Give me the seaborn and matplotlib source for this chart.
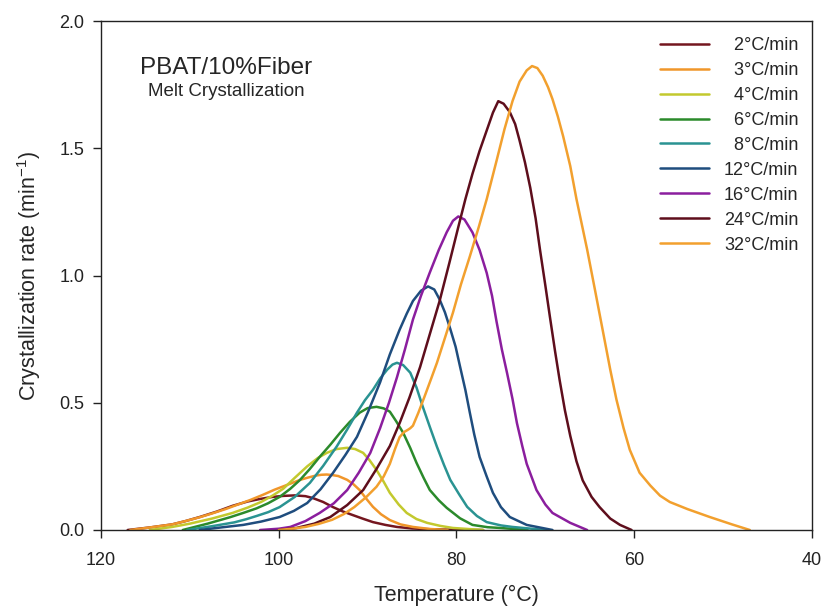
import numpy as np
import pandas as pd
import matplotlib
matplotlib.use("Agg")
import matplotlib.pyplot as plt
import seaborn as sns

# ---- data ----
labels = ["2°C/min", "3°C/min", "4°C/min", "6°C/min", "8°C/min",
          "12°C/min", "16°C/min", "24°C/min", "32°C/min"]
colors = ["#74161F", "#F0962A", "#C3C92E", "#2B8A2B", "#2A9392",
          "#1F4D7E", "#8B1E9E", "#5E0E1C", "#F2A02E"]

T_2 = [117.0, 114.5, 112.0, 110.5, 108.9, 107.0, 105.2, 103.5, 102.1, 100.7, 99.5, 98.2, 97.0, 96.2,
       95.0, 93.9, 92.8, 91.7, 90.5, 89.4, 88.0, 86.7, 85.0, 83.0, 80.0, 77.0]
r_2 = [0.0, 0.01, 0.022, 0.035, 0.051, 0.072, 0.095, 0.112, 0.122, 0.130, 0.134, 0.136, 0.133, 0.126,
       0.110, 0.090, 0.073, 0.059, 0.044, 0.031, 0.020, 0.012, 0.006, 0.003, 0.001, 0.0]

T_3 = [116.7, 114.5, 112.0, 110.5, 108.9, 107.5, 106.0, 104.6, 103.2, 101.8, 100.5, 99.0, 97.6, 96.6,
       95.8, 95.2, 94.6, 94.0, 93.3, 92.3, 91.6, 90.9, 90.2, 89.4, 88.5, 87.5, 86.3, 84.9, 83.0, 81.0]
r_3 = [0.0, 0.01, 0.022, 0.035, 0.05, 0.065, 0.082, 0.100, 0.118, 0.138, 0.158, 0.178, 0.197, 0.207,
       0.214, 0.217, 0.218, 0.216, 0.212, 0.197, 0.180, 0.157, 0.125, 0.091, 0.062, 0.039, 0.022, 0.012, 0.004, 0.0]

T_4 = [114.5, 112.0, 110.0, 107.5, 105.2, 103.5, 102.0, 100.7, 99.5, 98.2, 96.8, 95.6, 94.6, 93.5,
       92.3, 91.4, 90.5, 89.8, 89.0, 88.2, 87.5, 86.5, 85.6, 84.5, 83.3, 81.8, 80.4, 77.0]
r_4 = [0.0, 0.012, 0.025, 0.045, 0.067, 0.088, 0.11, 0.135, 0.162, 0.205, 0.250, 0.283, 0.303, 0.318,
       0.323, 0.318, 0.303, 0.275, 0.236, 0.190, 0.146, 0.100, 0.067, 0.043, 0.028, 0.016, 0.008, 0.0]

T_6 = [110.8, 108.0, 105.5, 104.0, 102.5, 101.2, 99.9, 98.7, 97.6, 96.5, 95.4, 94.2, 93.1, 92.0,
       90.9, 90.0, 89.0, 88.2, 87.5, 86.8, 86.0, 85.2, 84.5, 83.7, 83.0, 82.0, 81.1, 79.6, 78.2,
       76.5, 75.1, 72.0]
r_6 = [0.0, 0.025, 0.05, 0.067, 0.085, 0.105, 0.13, 0.162, 0.197, 0.240, 0.287, 0.335, 0.382, 0.425,
       0.461, 0.479, 0.484, 0.478, 0.465, 0.428, 0.382, 0.322, 0.264, 0.205, 0.157, 0.117, 0.087,
       0.046, 0.02, 0.011, 0.008, 0.0]

T_8 = [110.3, 107.5, 105.0, 103.7, 102.5, 101.2, 99.9, 98.2, 96.5, 95.0, 93.5, 92.3, 91.2, 90.3,
       89.4, 88.6, 87.8, 87.2, 86.7, 86.0, 85.2, 84.5, 83.8, 83.0, 82.2, 81.4, 80.7, 79.7, 78.8,
       77.7, 76.6, 75.0, 73.7, 70.0]
r_8 = [0.0, 0.015, 0.03, 0.042, 0.055, 0.07, 0.09, 0.13, 0.185, 0.252, 0.327, 0.395, 0.461, 0.51,
       0.551, 0.595, 0.63, 0.650, 0.657, 0.648, 0.618, 0.560, 0.485, 0.405, 0.327, 0.255, 0.197,
       0.140, 0.091, 0.055, 0.031, 0.018, 0.012, 0.0]

T_12 = [108.9, 106.5, 104.0, 102.0, 99.9, 98.3, 96.8, 95.3, 93.9, 92.5, 91.2, 90.0, 88.6, 87.5,
        86.4, 85.6, 84.9, 84.0, 83.2, 82.5, 81.9, 81.3, 80.7, 80.1, 79.6, 79.0, 78.5, 78.0, 77.4,
        76.6, 75.9, 75.0, 74.0, 72.1, 69.2]
r_12 = [0.0, 0.01, 0.02, 0.033, 0.051, 0.075, 0.106, 0.16, 0.224, 0.295, 0.366, 0.46, 0.58, 0.69,
        0.787, 0.85, 0.90, 0.94, 0.957, 0.945, 0.906, 0.855, 0.79, 0.72, 0.642, 0.55, 0.461, 0.375,
        0.287, 0.21, 0.146, 0.09, 0.051, 0.02, 0.0]

T_16 = [102.1, 100.0, 98.7, 97.0, 95.4, 93.8, 92.3, 91.0, 89.7, 88.6, 87.6, 86.7, 85.8, 84.9, 84.0,
        83.0, 82.0, 81.1, 80.4, 79.8, 79.1, 78.2, 77.4, 76.6, 76.0, 75.5, 74.9, 74.3, 73.7, 73.2,
        72.6, 72.1, 71.0, 70.0, 69.2, 67.2, 65.3]
r_16 = [0.0, 0.005, 0.012, 0.035, 0.067, 0.105, 0.157, 0.225, 0.303, 0.40, 0.50, 0.60, 0.71, 0.827,
        0.92, 1.012, 1.10, 1.17, 1.215, 1.232, 1.22, 1.169, 1.10, 1.01, 0.92, 0.82, 0.71, 0.615,
        0.515, 0.42, 0.33, 0.26, 0.157, 0.10, 0.067, 0.028, 0.0]

T_24 = [100.0, 98.0, 96.0, 94.2, 92.3, 90.5, 89.0, 87.5, 86.4, 85.3, 84.1, 83.0, 81.9, 80.8, 79.8,
        79.0, 78.2, 77.4, 76.6, 75.9, 75.3, 74.7, 74.0, 73.4, 72.9, 72.3, 71.7, 71.1, 70.6, 70.0,
        69.5, 68.9, 68.4, 67.8, 67.2, 66.5, 65.8, 64.8, 63.9, 62.7, 61.6, 60.3]
r_24 = [0.0, 0.008, 0.025, 0.051, 0.098, 0.157, 0.24, 0.33, 0.42, 0.52, 0.64, 0.77, 0.90, 1.05, 1.19,
        1.30, 1.40, 1.49, 1.57, 1.64, 1.685, 1.675, 1.642, 1.595, 1.53, 1.445, 1.345, 1.225, 1.10,
        0.96, 0.84, 0.70, 0.59, 0.47, 0.37, 0.27, 0.195, 0.13, 0.09, 0.045, 0.02, 0.0]

T_32 = [100.0, 98.5, 97.0, 95.5, 94.0, 92.7, 91.5, 90.2, 89.0, 88.2, 87.5, 86.9, 86.4, 85.9, 85.5,
        85.2, 84.9, 84.3, 83.6, 82.9, 82.2, 81.3, 80.4, 79.5, 78.5, 77.5, 76.6, 75.5, 74.6, 73.7,
        72.9, 72.1, 71.5, 70.9, 70.3, 69.7, 69.2, 68.6, 68.0, 67.2, 66.5, 65.3, 64.4, 63.5, 62.7,
        62.0, 61.2, 60.5, 59.4, 58.2, 57.1, 56.0, 54.0, 51.5, 49.0, 47.0]
r_32 = [0.0, 0.005, 0.012, 0.024, 0.04, 0.062, 0.09, 0.128, 0.17, 0.21, 0.26, 0.32, 0.365, 0.385,
        0.393, 0.40, 0.41, 0.46, 0.524, 0.59, 0.657, 0.755, 0.854, 0.965, 1.075, 1.19, 1.30, 1.45,
        1.575, 1.685, 1.762, 1.806, 1.823, 1.815, 1.785, 1.74, 1.693, 1.625, 1.547, 1.43, 1.30, 1.102,
        0.94, 0.776, 0.63, 0.512, 0.40, 0.315, 0.225, 0.175, 0.135, 0.11, 0.082, 0.051, 0.022, 0.0]

series_T = [T_2, T_3, T_4, T_6, T_8, T_12, T_16, T_24, T_32]
series_r = [r_2, r_3, r_4, r_6, r_8, r_12, r_16, r_24, r_32]

x_ticks = [120, 100, 80, 60, 40]
y_ticks = [0.0, 0.5, 1.0, 1.5, 2.0]

# ---- build long table ----
frames = []
for lab, T, r in zip(labels, series_T, series_r):
    frames.append(pd.DataFrame({"T": T, "rate": r, "series": lab}))
df = pd.concat(frames, ignore_index=True)

sns.set_style("ticks")
plt.rcParams["font.family"] = ["Liberation Sans", "DejaVu Sans"]
plt.rcParams["mathtext.default"] = "regular"

fig = plt.figure(figsize=(8.25, 6.14), dpi=100)
ax = fig.add_axes([101 / 825, 1 - 530 / 614, (812 - 101) / 825, (530 - 21) / 614])

palette = dict(zip(labels, colors))
sns.lineplot(data=df, x="T", y="rate", hue="series", hue_order=labels,
             palette=palette, estimator=None, sort=True, linewidth=1.8,
             ax=ax, legend=True)

ax.set_xlim(120, 40)
ax.set_ylim(0, 2.0)
ax.set_xticks(x_ticks)
ax.set_xticklabels([str(v) for v in x_ticks])
ax.set_yticks(y_ticks)
ax.set_yticklabels([f"{v:.1f}" for v in y_ticks])
ax.tick_params(axis="both", direction="out", length=6, width=1.0,
               labelsize=13, colors="#222222")
ax.tick_params(axis="x", pad=10)
ax.tick_params(axis="y", pad=6)
for s in ax.spines.values():
    s.set_linewidth(1.0)
    s.set_color("#222222")
    s.set_visible(True)

ax.set_xlabel("Temperature (°C)", fontsize=15.5, labelpad=11)
ax.set_ylabel("Crystallization rate (min$^{-1}$)", fontsize=15.5, labelpad=12)

ax.text(226 / 825, 1 - 68 / 614, "PBAT/10%Fiber", transform=fig.transFigure,
        ha="center", va="center", fontsize=17.5)
ax.text(226 / 825, 1 - 92 / 614, "Melt Crystallization", transform=fig.transFigure,
        ha="center", va="center", fontsize=13.5)

handles, _ = ax.get_legend_handles_labels()
pad_labels = [("  " + l) if len(l.split("°")[0]) == 1 else l for l in labels]
leg = ax.legend(handles, pad_labels, loc="upper left",
                bbox_to_anchor=(660 / 825, 1 - 37 / 614),
                bbox_transform=fig.transFigure, frameon=False,
                fontsize=13, handlelength=2.7, handletextpad=0.85,
                labelspacing=0.44, borderpad=0, borderaxespad=0)
for line in leg.get_lines():
    line.set_linewidth(1.8)

fig.savefig("out.png", dpi=100)
